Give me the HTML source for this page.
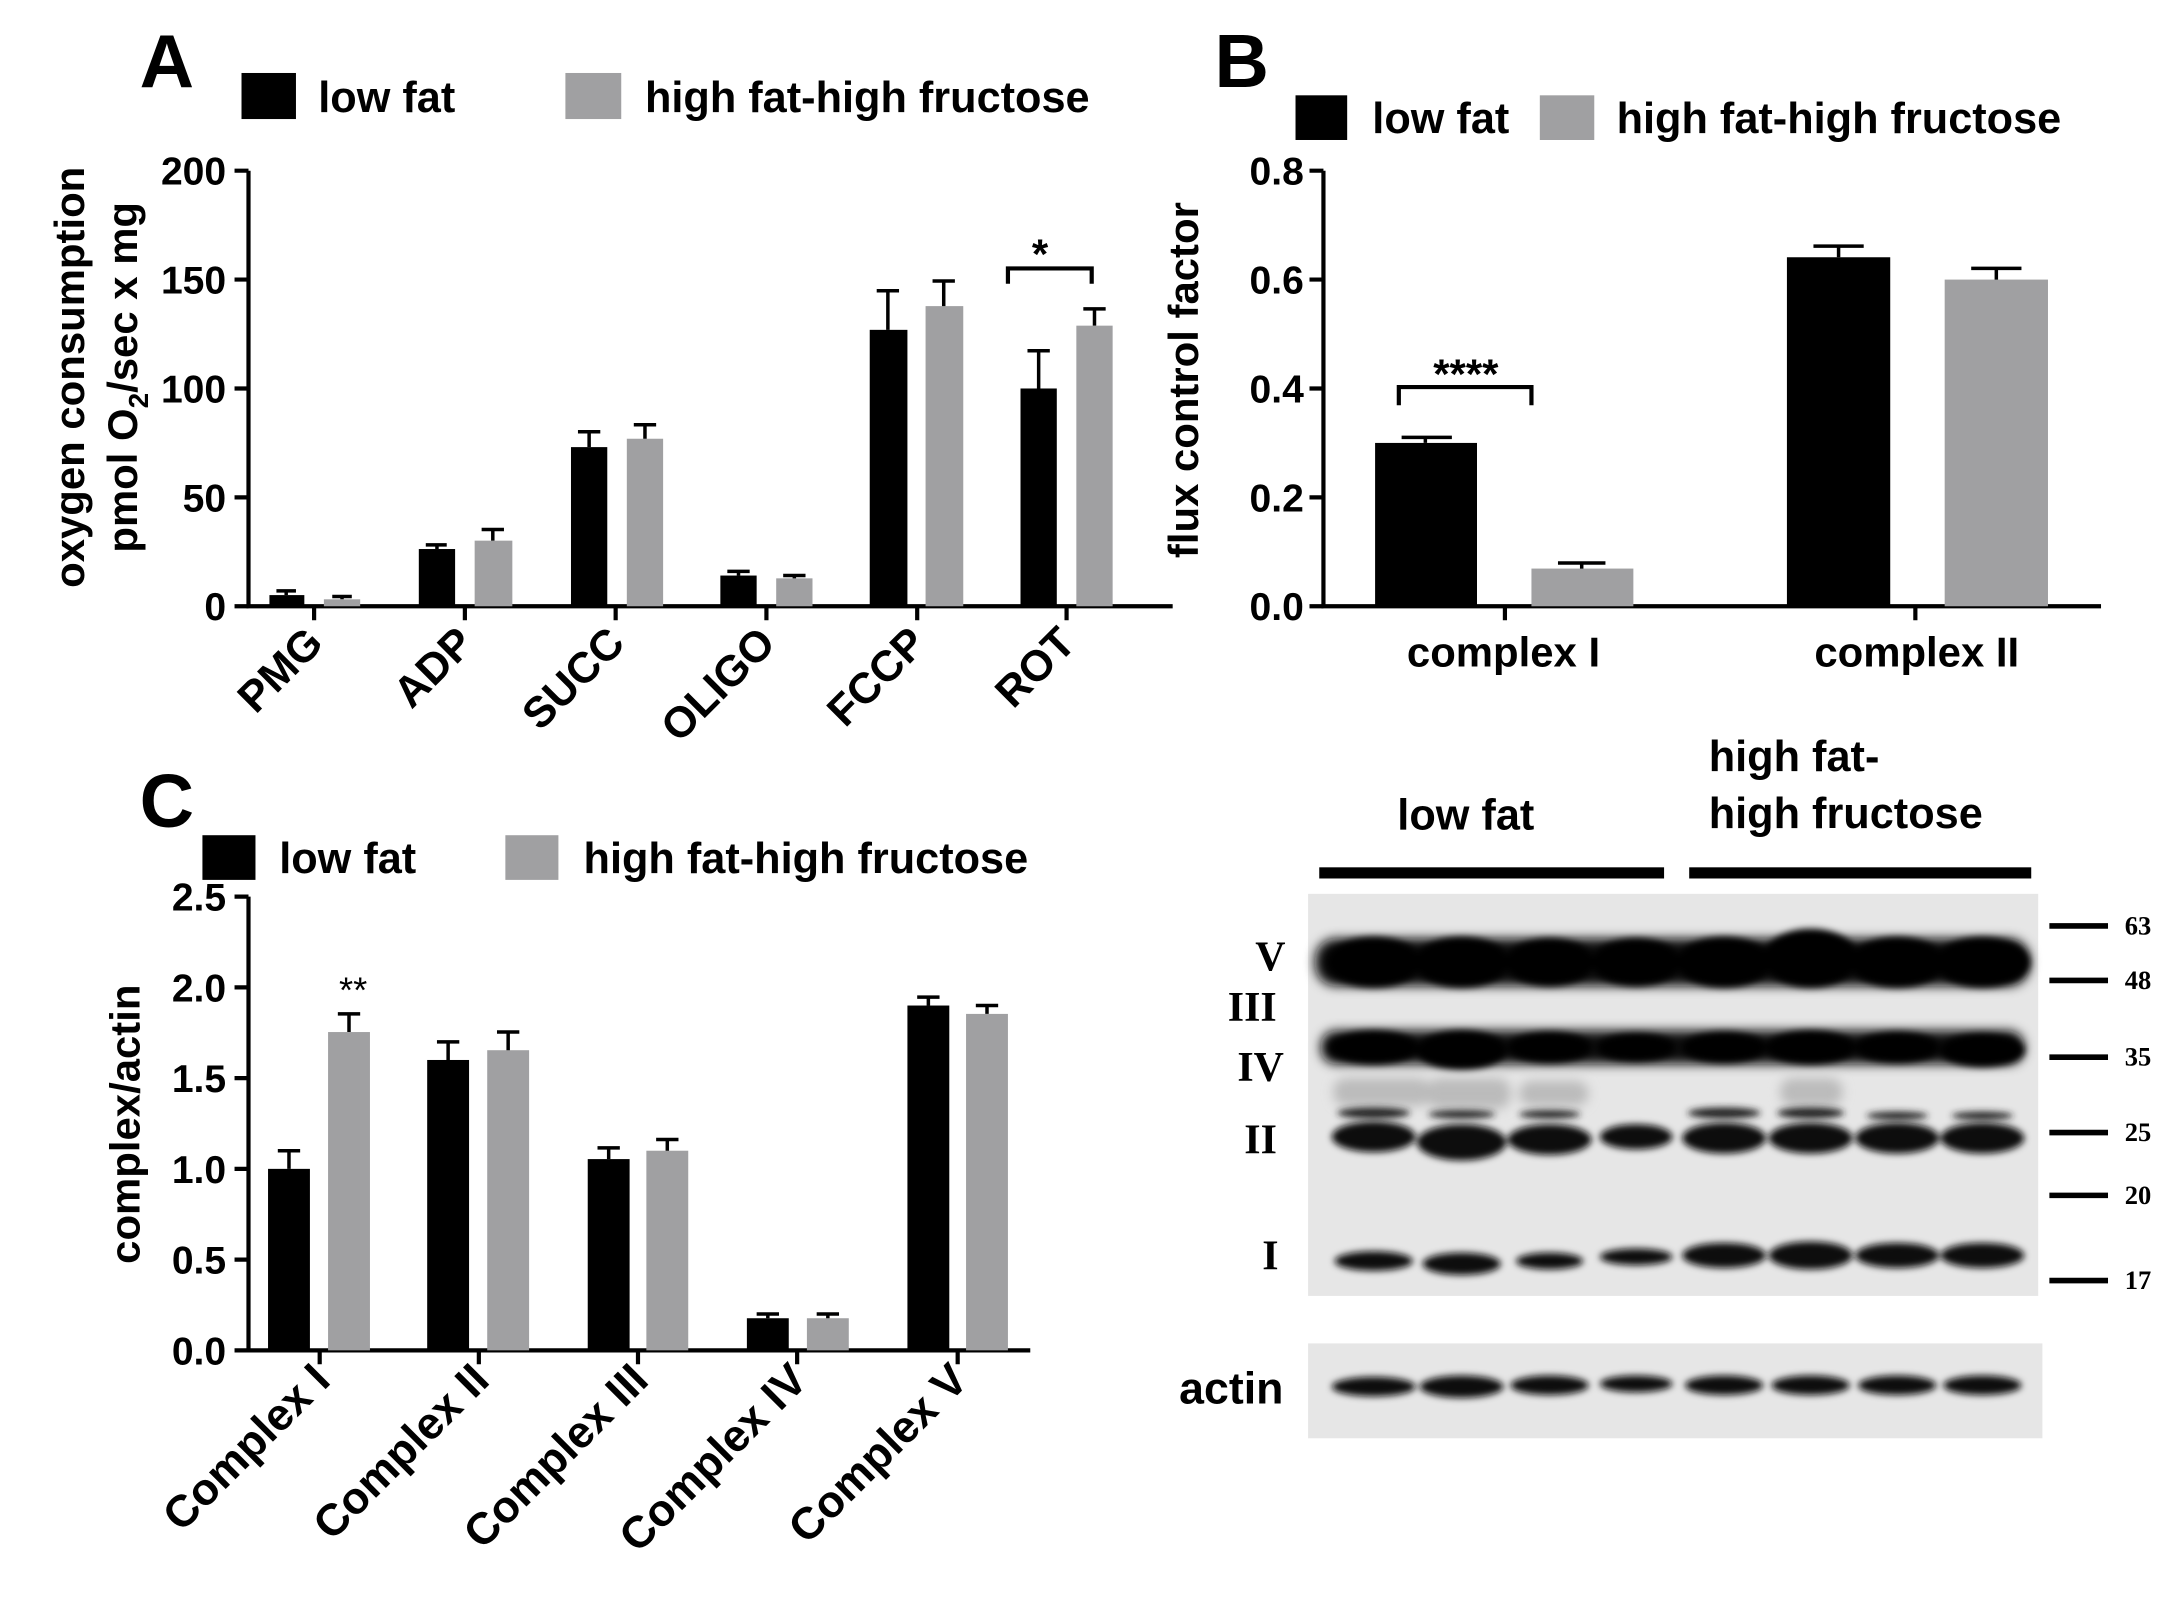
<!DOCTYPE html>
<html><head><meta charset="utf-8"><style>html,body{margin:0;padding:0;background:#fff}svg{display:block}</style></head>
<body>
<svg width="2182" height="1609" viewBox="0 0 1563 1152" xmlns="http://www.w3.org/2000/svg" font-family="Liberation Sans, sans-serif" font-weight="bold">
<defs>
<filter id="bl" x="-30%" y="-80%" width="160%" height="260%"><feGaussianBlur stdDeviation="4"/></filter>
<filter id="bl2" x="-30%" y="-80%" width="160%" height="260%"><feGaussianBlur stdDeviation="2.5"/></filter>
</defs>
<rect width="1563" height="1152" fill="#fff"/>

<!-- Panel A -->
<text x="100" y="62" font-size="54">A</text>
<rect x="173" y="52" width="39" height="33" fill="#000"/>
<text x="228" y="80" font-size="31">low fat</text>
<rect x="405" y="52" width="40" height="33" fill="#a0a0a2"/>
<text x="462" y="80" font-size="31">high fat-high fructose</text>
<g stroke="#000" stroke-width="3" fill="none">
<path d="M178 122 V434 H840"/>
<path d="M168 122 H178 M168 200 H178 M168 278 H178 M168 356 H178 M168 434 H178"/>
<path d="M225 434 V444 M333 434 V444 M441 434 V444 M549 434 V444 M657 434 V444 M764 434 V444"/>
<path d="M722 203 V192 H782 V203"/>
</g>
<g font-size="28" text-anchor="end">
<text x="162" y="132">200</text><text x="162" y="210">150</text><text x="162" y="288">100</text><text x="162" y="366">50</text><text x="162" y="444">0</text>
</g>
<text x="745" y="192" font-size="30" text-anchor="middle">*</text>
<g font-size="30" text-anchor="middle">
<text transform="translate(60,270) rotate(-90)">oxygen consumption</text>
<text transform="translate(98,270) rotate(-90)">pmol O<tspan font-size="20" dy="8">2</tspan><tspan dy="-8">/sec x mg</tspan></text>
</g>
<g font-size="31" text-anchor="end">
<text transform="translate(233,462) rotate(-45)">PMG</text>
<text transform="translate(341,462) rotate(-45)">ADP</text>
<text transform="translate(449,462) rotate(-45)">SUCC</text>
<text transform="translate(557,462) rotate(-45)">OLIGO</text>
<text transform="translate(665,462) rotate(-45)">FCCP</text>
<text transform="translate(772,462) rotate(-45)">ROT</text>
</g>
<g fill="#000">
<rect x="193" y="426" width="25" height="8"/><rect x="300" y="393" width="26" height="41"/>
<rect x="409" y="320" width="26" height="114"/><rect x="516" y="412" width="26" height="22"/>
<rect x="623" y="236" width="27" height="198"/><rect x="731" y="278" width="26" height="156"/>
</g>
<g fill="#a0a0a2">
<rect x="232" y="429" width="26" height="5"/><rect x="340" y="387" width="27" height="47"/>
<rect x="449" y="314" width="26" height="120"/><rect x="556" y="414" width="26" height="20"/>
<rect x="663" y="219" width="27" height="215"/><rect x="771" y="233" width="26" height="201"/>
</g>
<g stroke="#000" stroke-width="2.5">
<path d="M205 426 V423 M198 423 H212"/><path d="M245 429 V427 M238 427 H252"/>
<path d="M313 393 V390 M305 390 H320"/><path d="M353 387 V379 M345 379 H361"/>
<path d="M422 320 V309 M414 309 H430"/><path d="M462 314 V304 M454 304 H470"/>
<path d="M529 412 V409 M521 409 H537"/><path d="M569 414 V412 M561 412 H577"/>
<path d="M636 236 V208 M628 208 H644"/><path d="M676 219 V201 M668 201 H684"/>
<path d="M744 278 V251 M736 251 H752"/><path d="M784 233 V221 M776 221 H792"/>
</g>

<!-- Panel B -->
<text x="870" y="62" font-size="54">B</text>
<rect x="928" y="68" width="37" height="32" fill="#000"/>
<text x="983" y="95" font-size="31">low fat</text>
<rect x="1103" y="68" width="39" height="32" fill="#a0a0a2"/>
<text x="1158" y="95" font-size="31">high fat-high fructose</text>
<g stroke="#000" stroke-width="3" fill="none">
<path d="M948 122 V434 H1505"/>
<path d="M938 122 H948 M938 200 H948 M938 278 H948 M938 356 H948 M938 434 H948"/>
<path d="M1078 434 V444 M1372 434 V444"/>
<path d="M1002 290 V277 H1097 V290"/>
</g>
<g font-size="28" text-anchor="end">
<text x="934" y="132">0.8</text><text x="934" y="210">0.6</text><text x="934" y="288">0.4</text><text x="934" y="366">0.2</text><text x="934" y="444">0.0</text>
</g>
<text x="1050" y="278" font-size="30" text-anchor="middle">****</text>
<text transform="translate(858,272) rotate(-90)" font-size="30" text-anchor="middle">flux control factor</text>
<text x="1077" y="477" font-size="30" text-anchor="middle">complex I</text>
<text x="1373" y="477" font-size="30" text-anchor="middle">complex II</text>
<rect x="985" y="317" width="73" height="117" fill="#000"/>
<rect x="1097" y="407" width="73" height="27" fill="#a0a0a2"/>
<rect x="1280" y="184" width="74" height="250" fill="#000"/>
<rect x="1393" y="200" width="74" height="234" fill="#a0a0a2"/>
<g stroke="#000" stroke-width="2.5">
<path d="M1021 317 V313 M1004 313 H1040"/><path d="M1133 407 V403 M1116 403 H1150"/>
<path d="M1317 184 V176 M1299 176 H1335"/><path d="M1430 200 V192 M1412 192 H1448"/>
</g>

<!-- Panel C -->
<text x="100" y="592" font-size="54">C</text>
<rect x="145" y="598" width="38" height="32" fill="#000"/>
<text x="200" y="625" font-size="31">low fat</text>
<rect x="362" y="598" width="38" height="32" fill="#a0a0a2"/>
<text x="418" y="625" font-size="31">high fat-high fructose</text>
<g stroke="#000" stroke-width="3" fill="none">
<path d="M178 642 V967 H738"/>
<path d="M168 642 H178 M168 707 H178 M168 772 H178 M168 837 H178 M168 902 H178 M168 967 H178"/>
<path d="M229 967 V977 M343 967 V977 M457 967 V977 M571 967 V977 M686 967 V977"/>
</g>
<g font-size="28" text-anchor="end">
<text x="162" y="652">2.5</text><text x="162" y="717">2.0</text><text x="162" y="782">1.5</text><text x="162" y="847">1.0</text><text x="162" y="912">0.5</text><text x="162" y="977">0.0</text>
</g>
<text x="253" y="718" font-size="26" font-weight="normal" text-anchor="middle">**</text>
<text transform="translate(100,805) rotate(-90)" font-size="30" text-anchor="middle">complex/actin</text>
<g font-size="32" text-anchor="end">
<text transform="translate(238,990) rotate(-45)">Complex I</text>
<text transform="translate(352,990) rotate(-45)">Complex II</text>
<text transform="translate(466,990) rotate(-45)">Complex III</text>
<text transform="translate(580,990) rotate(-45)">Complex IV</text>
<text transform="translate(695,990) rotate(-45)">Complex V</text>
</g>
<g fill="#000">
<rect x="192" y="837" width="30" height="130"/><rect x="306" y="759" width="30" height="208"/>
<rect x="421" y="830" width="30" height="137"/><rect x="535" y="944" width="30" height="23"/>
<rect x="650" y="720" width="30" height="247"/>
</g>
<g fill="#a0a0a2">
<rect x="235" y="739" width="30" height="228"/><rect x="349" y="752" width="30" height="215"/>
<rect x="463" y="824" width="30" height="143"/><rect x="578" y="944" width="30" height="23"/>
<rect x="692" y="726" width="30" height="241"/>
</g>
<g stroke="#000" stroke-width="2.5">
<path d="M207 837 V824 M199 824 H215"/><path d="M250 739 V726 M242 726 H258"/>
<path d="M321 759 V746 M313 746 H329"/><path d="M364 752 V739 M356 739 H372"/>
<path d="M436 830 V822 M428 822 H444"/><path d="M478 824 V816 M470 816 H486"/>
<path d="M550 944 V941 M542 941 H558"/><path d="M593 944 V941 M585 941 H601"/>
<path d="M665 720 V714 M657 714 H673"/><path d="M707 726 V720 M699 720 H715"/>
</g>

<!-- Western blot -->
<text x="1050" y="594" font-size="31" text-anchor="middle">low fat</text>
<text x="1224" y="552" font-size="31">high fat-</text>
<text x="1224" y="593" font-size="31">high fructose</text>
<rect x="945" y="621" width="247" height="8" fill="#000"/>
<rect x="1210" y="621" width="245" height="8" fill="#000"/>
<rect x="937" y="640" width="523" height="288" fill="#e6e6e6"/>
<rect x="937" y="962" width="526" height="68" fill="#e6e6e6"/>
<g fill="#111" filter="url(#bl)">
<rect x="942" y="672" width="512" height="34" rx="15"/>
<rect x="946" y="738" width="504" height="24" rx="11"/>
</g>
<g fill="#000" filter="url(#bl2)">
<ellipse cx="984" cy="689" rx="34" ry="18"/><ellipse cx="1047" cy="689" rx="34" ry="18"/>
<ellipse cx="1110" cy="689" rx="32" ry="17"/><ellipse cx="1172" cy="689" rx="32" ry="17"/>
<ellipse cx="1235" cy="689" rx="34" ry="18"/><ellipse cx="1297" cy="686" rx="34" ry="21"/>
<ellipse cx="1359" cy="689" rx="34" ry="18"/><ellipse cx="1420" cy="689" rx="34" ry="18"/>
<ellipse cx="984" cy="750" rx="32" ry="12"/><ellipse cx="1047" cy="752" rx="32" ry="14"/>
<ellipse cx="1110" cy="750" rx="30" ry="11"/><ellipse cx="1172" cy="750" rx="28" ry="10"/>
<ellipse cx="1235" cy="750" rx="30" ry="11"/><ellipse cx="1297" cy="750" rx="32" ry="12"/>
<ellipse cx="1359" cy="750" rx="30" ry="11"/><ellipse cx="1420" cy="752" rx="30" ry="12"/>
</g>
<g fill="#bbb" filter="url(#bl)">
<rect x="955" y="772" width="70" height="20" rx="9"/><rect x="1022" y="772" width="60" height="22" rx="9"/>
<rect x="1088" y="774" width="50" height="18" rx="9"/><rect x="1275" y="772" width="45" height="20" rx="9"/>
</g>
<g fill="#222" filter="url(#bl2)">
<ellipse cx="984" cy="797" rx="26" ry="4"/><ellipse cx="1235" cy="797" rx="26" ry="4"/><ellipse cx="1297" cy="797" rx="24" ry="4"/>
<ellipse cx="1110" cy="798" rx="22" ry="3"/><ellipse cx="1047" cy="798" rx="24" ry="3"/>
<ellipse cx="1359" cy="799" rx="22" ry="3"/><ellipse cx="1420" cy="799" rx="22" ry="3"/>
</g>
<g fill="#111" filter="url(#bl2)">
<ellipse cx="984" cy="814" rx="30" ry="11"/><ellipse cx="1047" cy="818" rx="32" ry="13"/>
<ellipse cx="1110" cy="816" rx="30" ry="11"/><ellipse cx="1172" cy="814" rx="26" ry="9"/>
<ellipse cx="1235" cy="815" rx="30" ry="11"/><ellipse cx="1297" cy="815" rx="30" ry="11"/>
<ellipse cx="1359" cy="815" rx="30" ry="11"/><ellipse cx="1420" cy="815" rx="30" ry="11"/>
<ellipse cx="984" cy="903" rx="28" ry="7"/><ellipse cx="1047" cy="905" rx="28" ry="8"/>
<ellipse cx="1110" cy="903" rx="24" ry="6"/><ellipse cx="1172" cy="900" rx="26" ry="6"/>
<ellipse cx="1235" cy="899" rx="30" ry="9"/><ellipse cx="1297" cy="899" rx="30" ry="10"/>
<ellipse cx="1359" cy="899" rx="30" ry="9"/><ellipse cx="1420" cy="899" rx="30" ry="9"/>
<ellipse cx="984" cy="993" rx="30" ry="7"/><ellipse cx="1047" cy="993" rx="30" ry="8"/>
<ellipse cx="1110" cy="992" rx="28" ry="7"/><ellipse cx="1172" cy="991" rx="26" ry="6"/>
<ellipse cx="1235" cy="992" rx="28" ry="7"/><ellipse cx="1297" cy="992" rx="28" ry="7"/>
<ellipse cx="1359" cy="992" rx="28" ry="7"/><ellipse cx="1420" cy="992" rx="28" ry="7"/>
</g>
<g font-family="Liberation Serif, serif" font-size="30" text-anchor="middle">
<text x="910" y="695">V</text><text x="897" y="731">III</text><text x="903" y="774">IV</text>
<text x="903" y="826">II</text><text x="910" y="909">I</text>
</g>
<text x="882" y="1005" font-size="32" text-anchor="middle">actin</text>
<g stroke="#000" stroke-width="4">
<path d="M1468 663 H1510 M1468 702 H1510 M1468 757 H1510 M1468 811 H1510 M1468 856 H1510 M1468 917 H1510"/>
</g>
<g font-family="Liberation Serif, serif" font-size="19">
<text x="1522" y="669">63</text><text x="1522" y="708">48</text><text x="1522" y="763">35</text>
<text x="1522" y="817">25</text><text x="1522" y="862">20</text><text x="1522" y="923">17</text>
</g>
</svg>
</body></html>
